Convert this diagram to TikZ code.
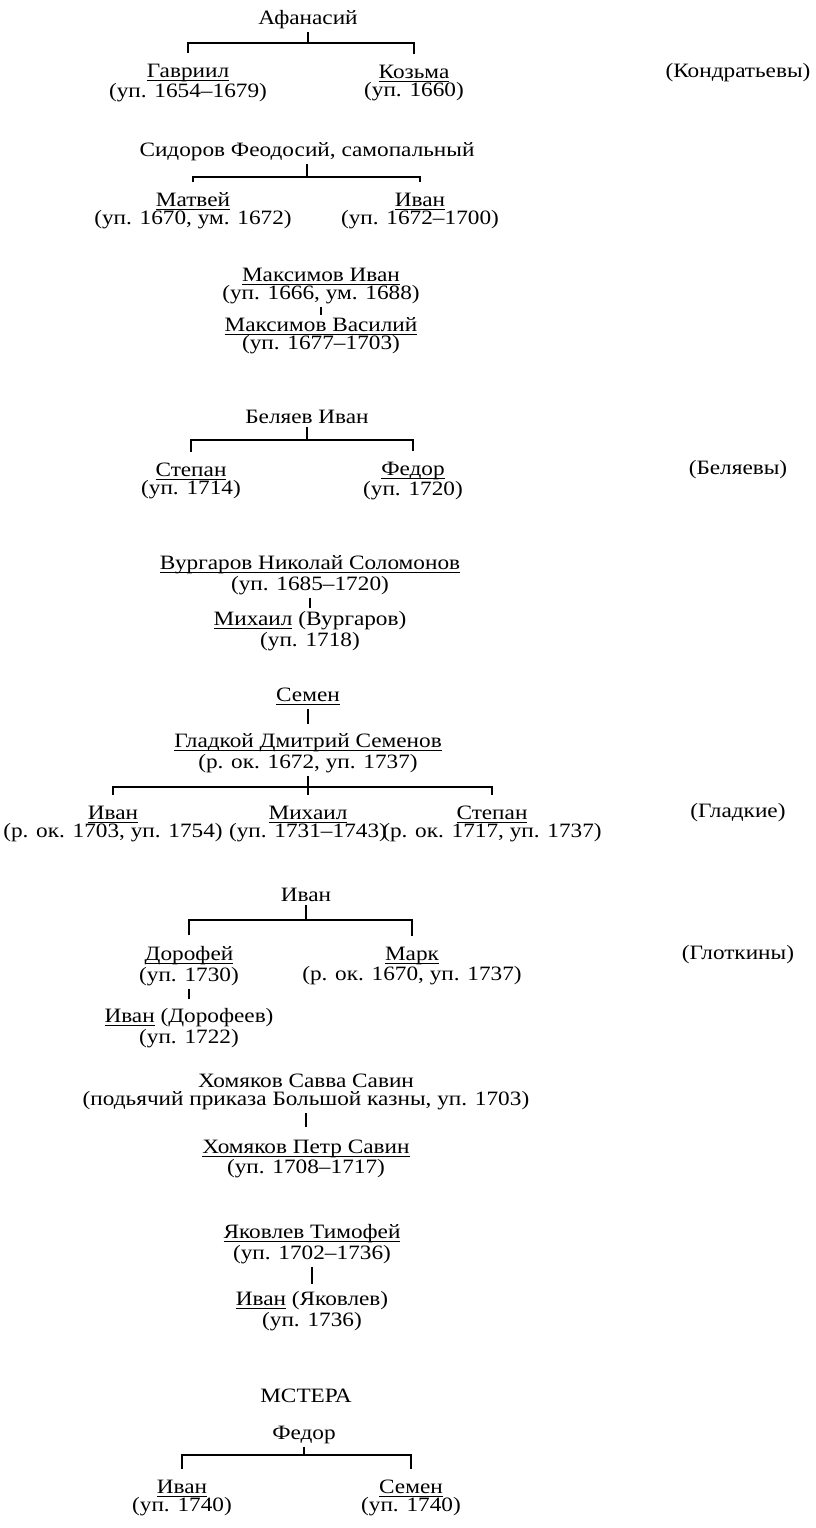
\documentclass[tikz,border=0pt]{standalone}
\usepackage{fontspec}
\setmainfont{Liberation Serif}[FakeStretch=1.14]
\newcommand{\und}[1]{\underline{\smash{#1}}\vphantom{#1}}
\tikzset{
  kid/.style={align=center},
  fork/.style={shorten <=4pt, shorten >=4pt},
}
\begin{document}
\begin{tikzpicture}[x=0.5pt,y=-0.5pt,line width=1.1pt,
    every node/.style={font=\fontsize{10.2}{9.1}\selectfont, inner sep=1pt}]
  \useasboundingbox (0,0) rectangle (815,1528);
  % Kondratyevs
  \node (Af) at (308,20) {Афанасий};
  \coordinate (a) at (308,43);
  \node[kid] (Ga) at (188,83) {\und{Гавриил}\\(уп. 1654--1679)};
  \node[kid] (Ko) at (414,83) {\und{Козьма}\\(уп. 1660)};
  \node (Kn) at (738,73) {(Кондратьевы)};
  \draw (Af) -- (a);
  \draw[fork] (Ga) |- (a) -| (Ko);
  % Sidorov
  \node (Si) at (307,152) {Сидоров Феодосий, самопальный};
  \coordinate (b) at (307,177);
  \node[kid] (Ma) at (193,211) {\und{Матвей}\\(уп. 1670, ум. 1672)};
  \node[kid] (Iv) at (420,211) {\und{Иван}\\(уп. 1672--1700)};
  \draw (Si) -- (b);
  \draw[fork] (Ma) |- (b) -| (Iv);
  % Maksimov
  \node[kid] (MI) at (321,286) {\und{Максимов Иван}\\(уп. 1666, ум. 1688)};
  \node[kid] (MV) at (321,336) {\und{Максимов Василий}\\(уп. 1677--1703)};
  \draw (MI) -- (MV);
  % Belyaevs
  \node (Be) at (307,417) {Беляев Иван};
  \coordinate (c) at (307,440);
  \node[kid] (St) at (191,481) {\und{Степан}\\(уп. 1714)};
  \node[kid] (Fe) at (413,481) {\und{Федор}\\(уп. 1720)};
  \node (Bl) at (738,470) {(Беляевы)};
  \draw (Be) -- (c);
  \draw[fork] (St) |- (c) -| (Fe);
  % Vurgarov
  \node[kid] (VN) at (310,575) {\und{Вургаров Николай Соломонов}\\(уп. 1685--1720)};
  \node[kid] (VM) at (310,631) {\und{Михаил} (Вургаров)\\(уп. 1718)};
  \draw (VN) -- (VM);
  % Gladkie
  \node (Se) at (308,697) {\und{Семен}};
  \node[kid] (GD) at (308,753) {\und{Гладкой Дмитрий Семенов}\\(р. ок. 1672, уп. 1737)};
  \coordinate (d) at (308,787);
  \node[kid] (I6) at (113,824) {\und{Иван}\\(р. ок. 1703, уп. 1754)};
  \node[kid] (M6) at (308,824) {\und{Михаил}\\(уп. 1731--1743)};
  \node[kid] (S6) at (492,824) {\und{Степан}\\(р. ок. 1717, уп. 1737)};
  \node (Gl) at (738,813) {(Гладкие)};
  \draw[shorten >=3pt] (Se) -- (GD);
  \draw (GD) -- (d);
  \draw[fork] (I6) |- (d) -| (S6);
  \draw[shorten <=4pt] (M6) -- (d);
  % Glotkins
  \node (IV) at (306,895) {Иван};
  \coordinate (e) at (306,920);
  \node[kid] (Do) at (189,966) {\und{Дорофей}\\(уп. 1730)};
  \node[kid] (Mr) at (412,966) {\und{Марк}\\(р. ок. 1670, уп. 1737)};
  \node[kid] (DI) at (189,1028) {\und{Иван} (Дорофеев)\\(уп. 1722)};
  \node (Gt) at (738,955) {(Глоткины)};
  \draw (IV) -- (e);
  \draw[fork] (Do) |- (e) -| (Mr);
  \draw[shorten >=3pt] (Do) -- (DI);
  % Khomyakov
  \node[kid] (KS) at (306,1092) {Хомяков Савва Савин\\(подьячий приказа Большой казны, уп. 1703)};
  \node[kid] (KP) at (306,1159) {\und{Хомяков Петр Савин}\\(уп. 1708--1717)};
  \draw[shorten >=5pt] (KS) -- (KP);
  % Yakovlev
  \node[kid] (YT) at (312,1244) {\und{Яковлев Тимофей}\\(уп. 1702--1736)};
  \node[kid] (YI) at (312,1311) {\und{Иван} (Яковлев)\\(уп. 1736)};
  \draw[shorten >=2pt] (YT) -- (YI);
  % Mstera
  \node (Ms) at (306,1396) {МСТЕРА};
  \node (Fd) at (304,1435) {Федор};
  \coordinate (f) at (304,1455);
  \node[kid] (I10) at (182,1498) {\und{Иван}\\(уп. 1740)};
  \node[kid] (S10) at (411,1498) {\und{Семен}\\(уп. 1740)};
  \draw (Fd) -- (f);
  \draw[fork] (I10) |- (f) -| (S10);
\end{tikzpicture}
\end{document}
